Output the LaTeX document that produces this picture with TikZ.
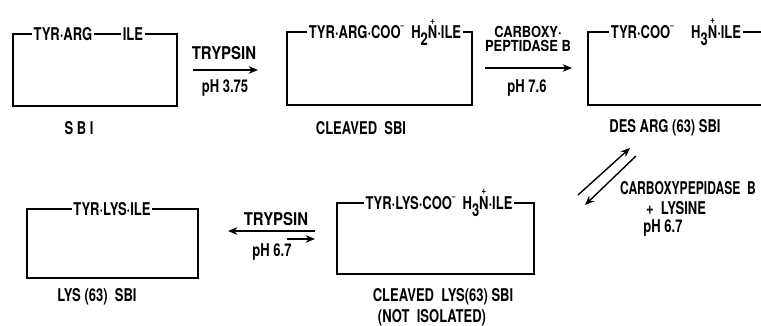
\documentclass[tikz,border=0pt]{standalone}
\usepackage{graphicx}
\usepackage{fontspec}
\setmainfont{TeX Gyre Heros}[FakeStretch=0.74]
\usetikzlibrary{arrows.meta}
\usetikzlibrary{positioning}
\tikzset{>={Stealth[length=8pt,width=6.5pt]}}
\tikzstyle{chain} = [%
					draw,
					line width = 1.4pt,
					inner sep = 0pt,
					outer sep = 0pt]
\tikzstyle{residue} = [%
					fill = white,
					inner sep = 1.5pt]
\tikzstyle{react} = [%
					line width = 1.2pt,
					->]
\newcommand{\pdot}{\textperiodcentered}
\newcommand{\coominus}{COO\raisebox{0.6em}{\scriptsize --}}
\newcommand{\Nplus}{\ooalign{\hfil\raisebox{0.85em}{\small +}\hfil\cr N\cr}}

\begin{document}
\begin{tikzpicture}[x=0.03cm, y=-0.03cm, every node/.style={font=\bfseries\fontsize{15}{15}\selectfont},
	size/.style 2 args={minimum width=#1*0.03cm, minimum height=#2*0.03cm}]
	
	\useasboundingbox (0,0) rectangle (761,325);
	\clip (0,0) rectangle (761,325);
	
	% Coordinates
	\coordinate (r1a) at (193,70);
	\coordinate (r1b) at (258,70);
	\coordinate (r2a) at (485,68);
	\coordinate (r2b) at (572,68);
	\coordinate (e1a) at (578,195);
	\coordinate (e1b) at (630,148);
	\coordinate (e2a) at (636,156);
	\coordinate (e2b) at (585,205);
	\coordinate (t1a) at (315,231);
	\coordinate (t1b) at (228,231);
	\coordinate (t2a) at (287,239);
	\coordinate (t2b) at (315,239);
	
	% Chains
	\node[chain, size={164}{72}] (sbi) at (95,70) {};
	\node[chain, size={185}{73}] (csbi) at (379.5,68.5) {};
	\node[chain, size={212}{73}] (dsbi) at (694,68.5) {};
	\node[chain, size={171}{69}] (lsbi) at (112.5,243.5) {};
	\node[chain, size={197}{71}] (clsbi) at (435.5,238.5) {};
	
	%% Residues on the chains
	\node[residue] (sbiA) at (63,34) {TYR\pdot ARG};
	\node[residue] (sbiB) at (133,34) {ILE};
	\node[residue] (csbiA) at (385,32) {TYR\pdot ARG\pdot\coominus\ \ H\raisebox{-0.35em}{2}\Nplus\pdot ILE};
	\node[residue] (dsbiA) at (676,32) {TYR\pdot\coominus\quad H\raisebox{-0.35em}{3}\Nplus\pdot ILE};
	\node[residue] (lsbiA) at (112,209) {TYR\pdot LYS\pdot ILE};
	\node[residue] (clsbiA) at (439,203) {TYR\pdot LYS\pdot\coominus\ \ H\raisebox{-0.35em}{3}\Nplus\pdot ILE};
	
	%% Names
	\node (sbiN) at (79,128) {S B I};
	\node (csbiN) at (361,128) {CLEAVED\ \ SBI};
	\node (dsbiN) at (665,128) {DES ARG (63) SBI};
	\node (lsbiN) at (97,297) {LYS (63)\ \ SBI};
	\node (clsbiN) at (443,297) {CLEAVED\ \ LYS(63) SBI};
	\node (clsbiM) at (432,318) {(NOT\ \ ISOLATED)};
	
	% Reactions
	\draw[react] (r1a) -- (r1b);
	\node (r1up) at (224,53) {\scalebox{1.15}[1]{TRYPSIN}};
	\node (r1dn) at (225,88) {pH 3.75};
	
	\draw[react] (r2a) -- (r2b);
	\node[align=center, font=\bfseries\fontsize{13}{11.5}\selectfont] (r2up) at (528,39) {\scalebox{1.15}[1]{CARBOXY\pdot}\\\scalebox{1.15}[1]{PEPTIDASE B}};
	\node (r2dn) at (527,88) {pH 7.6};
	
	\draw[react] (e1a) -- (e1b);
	\draw[react] (e2a) -- (e2b);
	\node (eq1) at (688,188) {\scalebox{0.93}[1]{CARBOXYPEPIDASE\ \ B}};
	\node (eq2) at (676,208) {+\ \ LYSINE};
	\node (eq3) at (663,228) {pH 6.7};
	
	\draw[react] (t1a) -- (t1b);
	\draw[react] (t2a) -- (t2b);
	\node (t1up) at (276,219) {\scalebox{1.15}[1]{TRYPSIN}};
	\node (t1dn) at (272,252) {pH 6.7};
\end{tikzpicture}
\end{document}
